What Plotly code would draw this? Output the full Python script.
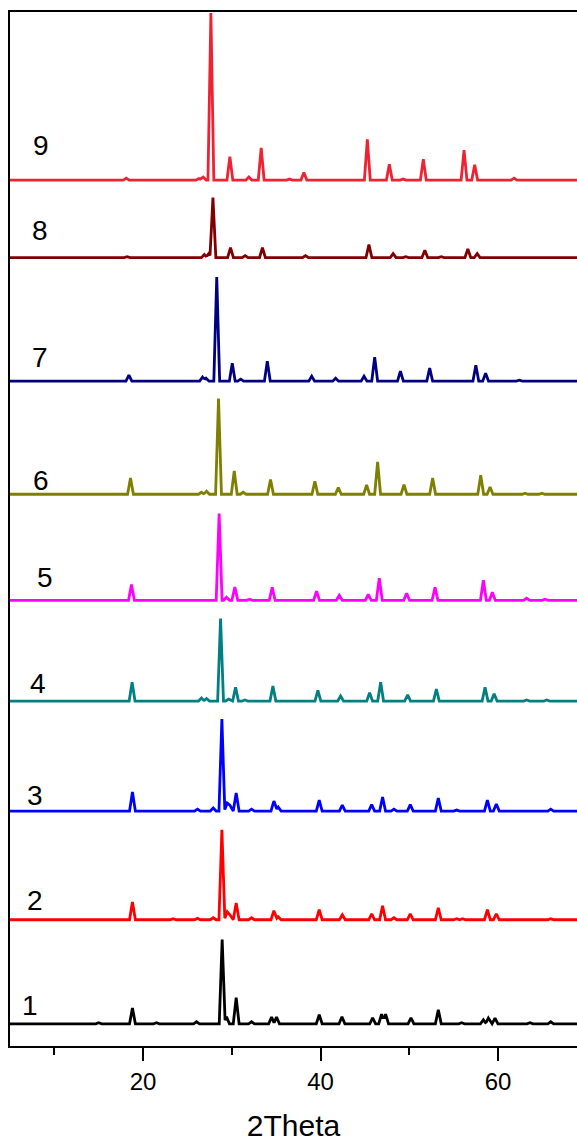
import plotly.graph_objects as go

# ---- data (2Theta positions, peak heights above baseline, a.u.) ----
labels = ["1", "2", "3", "4", "5", "6", "7", "8", "9"]
colors = ["#000000", "#FF0000", "#0000FF", "#008080", "#FF00FF",
          "#808000", "#000080", "#800000", "#EE2233"]
baselines = [22.2, 126.2, 234.8, 344.8, 445.5, 551.5, 664.5, 788.0, 865.5]

pos1 = [15.0, 18.80, 21.5, 26.02, 28.91, 29.40, 30.49, 32.22, 34.48, 35.04, 39.85, 42.41,
        45.87, 46.88, 47.33, 50.19, 53.27, 55.9, 58.35, 58.91, 59.66, 63.6, 65.94]
hgt1 = [1, 15.7, 1, 2, 84.3, 7, 26, 2, 6.7, 6.7, 9, 7,
        6, 9.7, 9.7, 6, 14, 1, 4, 5.7, 5.7, 1, 2]

pos2 = [18.80, 23.39, 26.13, 27.9, 28.88, 29.48, 29.78, 30.49, 32.22, 34.74, 35.23, 39.85,
        42.45, 45.76, 46.99, 48.27, 50.11, 53.27, 55.34, 56.0, 58.80, 59.81, 65.94]
hgt2 = [17.7, 1, 1.5, 2, 90, 8, 5, 16.7, 2, 9, 3, 10,
        5, 6, 14, 2, 6, 12, 1, 1, 10, 6, 1]

pos3 = [18.80, 26.13, 27.9, 28.88, 29.48, 29.78, 30.49, 32.22, 34.74, 35.23, 39.85,
        42.45, 45.76, 46.99, 48.27, 50.11, 53.27, 55.34, 58.80, 59.81, 65.94]
hgt3 = [19, 2, 3, 92, 8, 6, 18, 2, 10, 4, 11,
        6, 6.5, 14, 2, 6.5, 13, 1, 11, 7, 2]

pos4 = [18.76, 26.58, 27.15, 28.73, 29.63, 30.42, 31.47, 34.63, 39.70, 42.26, 45.53,
        46.77, 49.81, 53.05, 58.54, 59.56, 63.23, 65.49]
hgt4 = [18.7, 3, 2.5, 82.4, 2, 13.7, 1, 15, 10.7, 5, 8.3,
        18.7, 6.3, 12, 13.7, 7.3, 1, 1]

pos5 = [18.69, 28.57, 29.40, 30.34, 32.0, 34.55, 39.55, 42.11, 45.38, 46.62, 49.70,
        52.90, 58.35, 59.36, 63.23, 65.3]
hgt5 = [15.7, 86.7, 3, 13.3, 1, 13, 9, 5, 6, 22, 7,
        13, 20, 8, 2, 1]

pos6 = [18.58, 26.58, 27.15, 28.50, 30.27, 31.28, 34.36, 39.36, 42.0, 45.19, 46.43,
        49.40, 52.63, 58.05, 59.10, 63.05, 64.93]
hgt6 = [16.3, 2, 3, 95.7, 23.3, 2, 14.7, 13, 6.7, 9.3, 32.3,
        9.7, 16.3, 19, 7.3, 1, 1]

pos7 = [18.4, 26.7, 27.1, 28.3, 30.05, 31.0, 34.0, 39.0, 41.7, 44.9, 46.1,
        49.0, 52.3, 57.5, 58.6, 62.4]
hgt7 = [6, 4, 3, 104, 18, 2, 20, 5, 3, 5, 24,
        10, 13, 16, 8, 1]

pos8 = [18.2, 26.9, 27.4, 27.87, 29.85, 31.5, 33.45, 38.3, 45.45, 48.18, 49.6,
        51.75, 53.6, 56.6, 57.65]
hgt8 = [1, 3, 4, 60, 10, 2, 10, 2, 13, 4, 1,
        7.3, 1, 8.7, 4]

pos9 = [18.1, 26.3, 26.77, 27.64, 29.78, 31.92, 33.31, 36.5, 38.12, 45.27, 47.75,
        49.3, 51.58, 56.17, 57.37, 61.81]
hgt9 = [2, 1.5, 3, 167, 23.3, 3, 32.3, 1, 7.7, 40.7, 15.7,
        1, 21, 30, 15.3, 2]

positions = [pos1, pos2, pos3, pos4, pos5, pos6, pos7, pos8, pos9]
heights = [hgt1, hgt2, hgt3, hgt4, hgt5, hgt6, hgt7, hgt8, hgt9]

label_x = [7.3, 7.85, 7.85, 8.2, 8.9, 8.45, 8.35, 8.35, 8.48]
label_y = [40.5, 145.5, 250.5, 362.5, 467.8, 564.8, 688.5, 815.5, 899.8]

X_START, X_END = 5.0, 70.0
HALF_W = 0.33
FONT = "Arial, Liberation Sans, sans-serif"


def profile(pos, hgt, base):
    xs = {X_START, X_END}
    for p in pos:
        xs.update([p - HALF_W, p, p + HALF_W])
    xs = sorted(xs)
    ys = []
    for x in xs:
        v = 0.0
        for p, h in zip(pos, hgt):
            d = abs(x - p)
            if d < HALF_W:
                v = max(v, h * (1 - d / HALF_W))
        ys.append(base + v)
    return xs, ys


fig = go.Figure()
for lab, col, base, pos, hgt in zip(labels, colors, baselines, positions, heights):
    xs, ys = profile(pos, hgt, base)
    fig.add_trace(go.Scatter(x=xs, y=ys, mode="lines", name=lab,
                             line=dict(color=col, width=2.8), showlegend=False))

for lab, lx, ly in zip(labels, label_x, label_y):
    fig.add_annotation(x=lx, y=ly, xref="x", yref="y", text=lab, showarrow=False,
                       font=dict(family=FONT, size=28, color="black"))

fig.update_layout(
    width=577, height=1142,
    margin=dict(l=10, r=0, t=12, b=96),
    paper_bgcolor="white", plot_bgcolor="white",
    xaxis=dict(range=[5, 68.9], showline=True, linecolor="black", linewidth=2,
               mirror=True, ticks="outside", ticklen=13, tickwidth=2, tickcolor="black",
               tick0=0, dtick=20, showgrid=False, zeroline=False,
               tickfont=dict(family=FONT, size=24, color="black"),
               minor=dict(tick0=0, dtick=10, ticks="outside", ticklen=7, tickwidth=2,
                          tickcolor="black", showgrid=False),
               title=dict(text="2Theta", font=dict(family=FONT, size=30, color="black"),
                          standoff=22)),
    yaxis=dict(range=[0, 1033.5], showline=True, linecolor="black", linewidth=2,
               mirror=False, ticks="", showticklabels=False, showgrid=False,
               zeroline=False),
)

fig.write_html("out.html")
